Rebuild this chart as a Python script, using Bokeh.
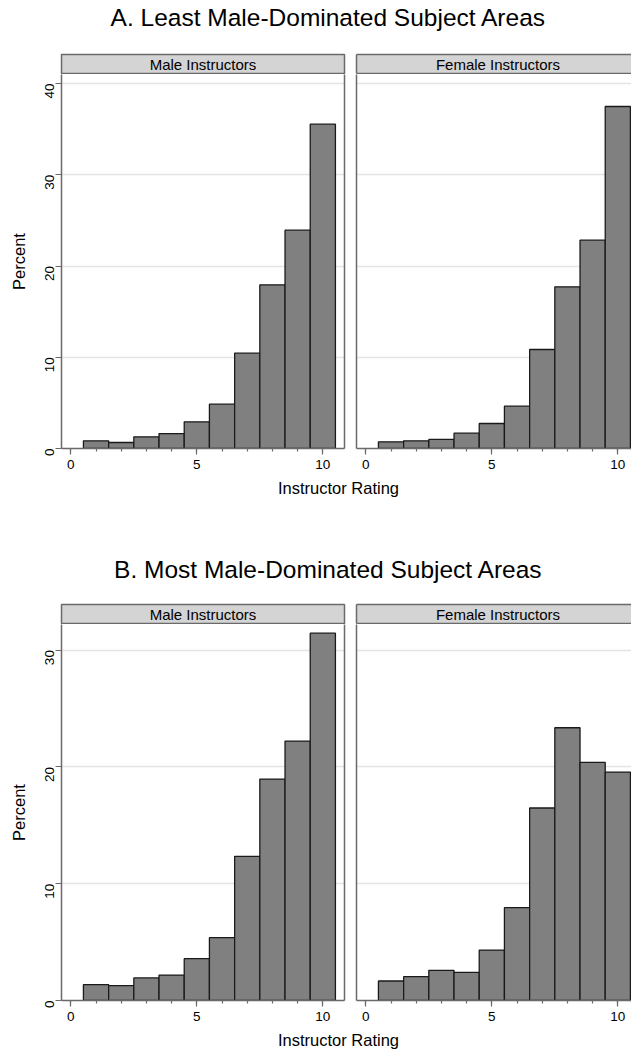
import math
from bokeh.plotting import figure
from bokeh.layouts import column, row
from bokeh.models import Range1d, FixedTicker, LinearAxis
from bokeh.core.properties import value
from bokeh.embed import file_html
from bokeh.resources import INLINE

# ---------------- data ----------------
ratings = [1, 2, 3, 4, 5, 6, 7, 8, 9, 10]
least_male = [0.84, 0.66, 1.28, 1.64, 2.92, 4.86, 10.45, 17.94, 23.93, 35.54]
least_female = [0.73, 0.84, 0.99, 1.68, 2.74, 4.64, 10.85, 17.72, 22.83, 37.48]
most_male = [1.36, 1.27, 1.93, 2.18, 3.58, 5.38, 12.34, 18.96, 22.21, 31.45]
most_female = [1.67, 2.04, 2.58, 2.41, 4.32, 7.95, 16.48, 23.35, 20.39, 19.56]

title_a = "A. Least Male-Dominated Subject Areas"
title_b = "B. Most Male-Dominated Subject Areas"
panel_labels = ["Male Instructors", "Female Instructors"]
x_title = "Instructor Rating"
y_title = "Percent"
x_ticks = [0, 5, 10]
x_minor = list(range(11))
y_ticks_a = [0, 10, 20, 30, 40]
y_ticks_b = [0, 10, 20, 30]

# ---------------- style ----------------
FONT = "Liberation Sans"
GREY = "#6a6a6a"
GRID = "#e4e4e4"
BAR_FILL = "#808080"
BAR_LINE = "#1a1a1a"
HDR_FILL = "#d4d4d4"
X0 = -0.37
PXU = 25.2           # pixels per rating unit
FULL_W = 283         # full panel frame width (px)
PAGE_W = 631
LEFT_W, LEFT_MBL, LEFT_MBR = 350, 61, 6
RIGHT_W, RIGHT_MBL, RIGHT_MBR = 281, 6, 0


def text_fig(h, x, y, txt, size):
    p = figure(width=PAGE_W, height=h, x_range=Range1d(0, PAGE_W), y_range=Range1d(0, h),
               output_backend="svg", toolbar_location=None, x_axis_type=None, y_axis_type=None,
               min_border=0, min_border_left=0, min_border_right=0, min_border_top=0, min_border_bottom=0)
    p.outline_line_color = None
    p.text(x=[x], y=[y], text=[txt], text_font=value(FONT), text_font_size=value(size),
           text_align="center", text_baseline="middle", text_color="black")
    return p


def border_axis(p, loc):
    ax = LinearAxis(ticker=FixedTicker(ticks=[]), axis_line_color=GREY, axis_line_width=1.5,
                    major_tick_out=0, major_tick_in=0, minor_tick_out=0, minor_tick_in=0,
                    major_label_standoff=0, axis_label=None)
    p.add_layout(ax, loc)


def header_fig(label, left):
    w, mbl, mbr = (LEFT_W, LEFT_MBL, LEFT_MBR) if left else (RIGHT_W, RIGHT_MBL, RIGHT_MBR)
    fw = w - mbl - mbr
    p = figure(width=w, height=21, x_range=Range1d(X0, X0 + fw / PXU), y_range=Range1d(0, 1),
               output_backend="svg", toolbar_location=None, x_axis_type=None, y_axis_type=None,
               min_border=0, min_border_left=mbl, min_border_right=mbr, min_border_top=1, min_border_bottom=1)
    p.background_fill_color = HDR_FILL
    if left:
        p.outline_line_color = GREY
        p.outline_line_width = 1.5
    else:
        p.outline_line_color = None
        border_axis(p, "left")
        border_axis(p, "above")
        border_axis(p, "below")
    p.text(x=[X0 + FULL_W / PXU / 2], y=[0.5], text=[label], text_font=value(FONT),
           text_font_size=value("15px"), text_align="center", text_baseline="middle", text_color="black")
    return p


def panel_fig(vals, y_ticks, frame_h, px_per_pct, left):
    w, mbl, mbr = (LEFT_W, LEFT_MBL, LEFT_MBR) if left else (RIGHT_W, RIGHT_MBL, RIGHT_MBR)
    fw = w - mbl - mbr
    p = figure(width=w, height=frame_h + 28, x_range=Range1d(X0, X0 + fw / PXU),
               y_range=Range1d(0, frame_h / px_per_pct),
               output_backend="svg", toolbar_location=None,
               min_border=0, min_border_left=mbl, min_border_right=mbr, min_border_top=0, min_border_bottom=28)
    p.outline_line_color = None
    p.xgrid.visible = False
    p.ygrid.ticker = FixedTicker(ticks=[t for t in y_ticks if t > 0])
    p.ygrid.grid_line_color = GRID
    p.ygrid.grid_line_width = 1.5

    p.vbar(x=ratings, width=1, top=vals, bottom=0, fill_color=BAR_FILL,
           line_color=BAR_LINE, line_width=1.3)

    xa = p.xaxis[0]
    xa.ticker = FixedTicker(ticks=x_ticks, minor_ticks=x_minor)
    xa.axis_line_color = GREY
    xa.axis_line_width = 1.5
    xa.major_tick_line_color = GREY
    xa.minor_tick_line_color = GREY
    xa.major_tick_line_width = 1.2
    xa.minor_tick_line_width = 1.2
    xa.major_tick_out = 6
    xa.major_tick_in = 0
    xa.minor_tick_out = 3
    xa.minor_tick_in = 0
    xa.major_label_standoff = 5
    xa.major_label_text_font = FONT
    xa.major_label_text_font_size = "13.5px"
    xa.major_label_text_color = "black"

    ya = p.yaxis[0]
    if left:
        ya.ticker = FixedTicker(ticks=y_ticks)
        ya.axis_line_color = GREY
        ya.axis_line_width = 1.5
        ya.major_tick_line_color = GREY
        ya.major_tick_line_width = 1.2
        ya.major_tick_out = 6
        ya.major_tick_in = 0
        ya.minor_tick_out = 0
        ya.minor_tick_in = 0
        ya.major_label_orientation = math.pi / 2
        ya.major_label_standoff = 6
        ya.major_label_text_font = FONT
        ya.major_label_text_font_size = "13.5px"
        ya.major_label_text_color = "black"
        ya.axis_label = y_title
        ya.axis_label_standoff = 10
        ya.axis_label_text_font = FONT
        ya.axis_label_text_font_size = "16.5px"
        ya.axis_label_text_font_style = "normal"
        ya.axis_label_text_color = "black"
        border_axis(p, "right")
    else:
        ya.ticker = FixedTicker(ticks=[])
        ya.axis_line_color = GREY
        ya.axis_line_width = 1.5
        ya.major_tick_out = 0
        ya.major_tick_in = 0
        ya.minor_tick_out = 0
        ya.minor_tick_in = 0
        ya.major_label_standoff = 0
    return p


# ---------------- panel A ----------------
t_a = text_fig(53, 328, 36.3, title_a, "24.5px")
h_a = row(header_fig(panel_labels[0], True), header_fig(panel_labels[1], False))
p_a = row(panel_fig(least_male, y_ticks_a, 374, 9.125, True),
          panel_fig(least_female, y_ticks_a, 374, 9.125, False))
x_a = text_fig(29, 338, 17.3, x_title, "16.5px")

# ---------------- panel B ----------------
t_b = text_fig(98, 328, 34.5, title_b, "24.5px")
h_b = row(header_fig(panel_labels[0], True), header_fig(panel_labels[1], False))
p_b = row(panel_fig(most_male, y_ticks_b, 376, 11.68, True),
          panel_fig(most_female, y_ticks_b, 376, 11.68, False))
x_b = text_fig(23, 338, 11.5, x_title, "16.5px")

layout = column(t_a, h_a, p_a, x_a, t_b, h_b, p_b, x_b)

with open("out.html", "w") as f:
    f.write(file_html(layout, INLINE))
